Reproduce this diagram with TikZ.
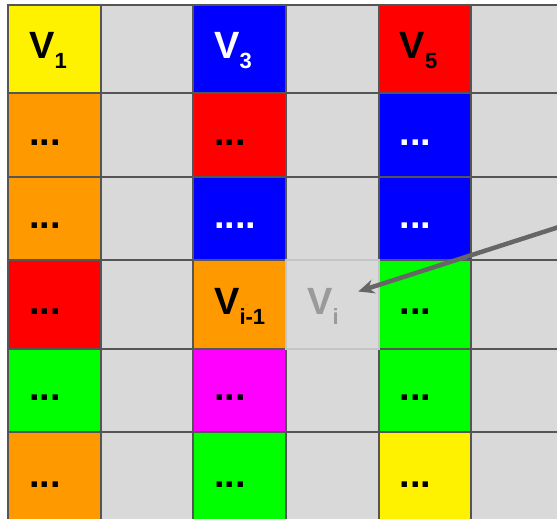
\documentclass[tikz,border=0pt]{standalone}
\usepackage{fontspec}
\setmainfont{Liberation Sans}
\usetikzlibrary{arrows.meta,fit}
\definecolor{grid-line}{HTML}{555555}
\definecolor{cell-gray}{HTML}{D9D9D9}
\definecolor{cell-orange}{HTML}{FF9900}
\definecolor{cell-magenta}{HTML}{FF00FF}
\definecolor{vi-line}{HTML}{C4C4C4}
\definecolor{vi-text}{HTML}{9A9A9A}
\definecolor{arrow-gray}{HTML}{666666}
\newcommand\vsub[1]{V\raisebox{-10pt}{\fontsize{22}{24}\selectfont#1}}

\tikzset{
  cell/.style={draw=grid-line,line width=2pt,inner sep=0pt,outer sep=0pt},
  lbl/.style={anchor=base west,inner sep=0pt,font=\fontsize{38}{40}\selectfont\bfseries},
}

\begin{document}
\begin{tikzpicture}[x=1pt,y=-1pt]
  \useasboundingbox (0,0) rectangle (557,519);
  \clip (0,0) rectangle (557,519);
  % grå grundgitter
  \foreach \x [count=\c from 0] in {8,100.5,193,286,378.5,471}
    \foreach \y/\h [count=\r from 0] in {5/88,93/84,177/83,260/89,349/83,432/90}
      \node[cell,fill=cell-gray,minimum width=92.5pt,minimum height=\h pt,anchor=north west]
        (g-\c-\r) at (\x,\y) {};
  % farvede felter: navn/felt/farve/tekstfarve/tekst
  \foreach \n/\g/\f/\tc/\t in {
      v1/0-0/yellow/black/{\vsub{1}},
      c01/0-1/cell-orange/black/{...},
      c02/0-2/cell-orange/black/{...},
      c03/0-3/red/black/{...},
      c04/0-4/green/black/{...},
      c05/0-5/cell-orange/black/{...},
      v3/2-0/blue/white/{\vsub{3}},
      c21/2-1/red/black/{...},
      c22/2-2/blue/white/{....},
      vim1/2-3/cell-orange/black/{\vsub{i-1}},
      c24/2-4/cell-magenta/black/{...},
      c25/2-5/green/black/{...},
      v5/4-0/red/black/{\vsub{5}},
      c41/4-1/blue/white/{...},
      c42/4-2/blue/white/{...},
      c43/4-3/green/black/{...},
      c44/4-4/green/black/{...},
      c45/4-5/yellow/black/{...}}{
    \node[cell,fill=\f,fit=(g-\g)] (\n) {};
    \node[lbl,text=\tc] (\n-t) at ([xshift=21pt,yshift=-10pt]\n.west) {\t};
  }
  % det tomme felt V_i
  \node[cell,draw=vi-line,fill=cell-gray,fit=(g-3-3)] (vi) {};
  \node[lbl,text=vi-text] (vi-t) at ([xshift=21pt,yshift=-10pt]vi.west) {\vsub{i}};
  % pil ind mod V_i
  \coordinate (arr-from) at (562,226);
  \coordinate (arr-to) at ([xshift=26pt,yshift=13pt]vi.center);
  \draw[arrow-gray,line width=4.5pt,-{Stealth[length=16pt,width=14pt]}] (arr-from) -- (arr-to);
\end{tikzpicture}
\end{document}
